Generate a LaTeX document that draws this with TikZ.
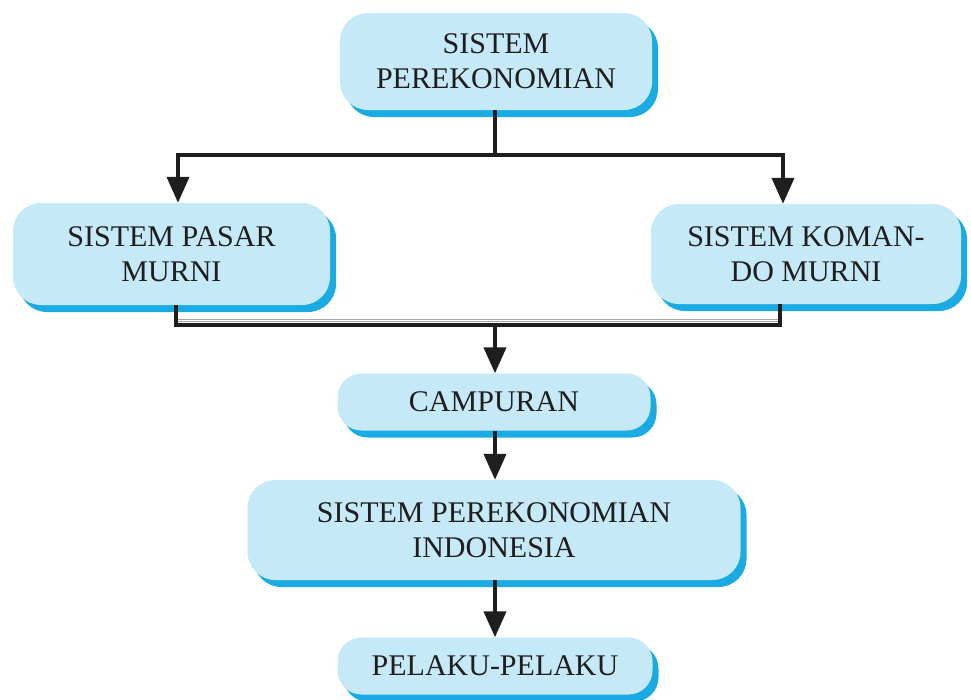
\documentclass[tikz,border=0pt]{standalone}
\usepackage{fontspec}
\setmainfont{Liberation Serif}
\usetikzlibrary{arrows.meta,shadows}
\definecolor{boxblue}{HTML}{C6E9F8}
\definecolor{shadowblue}{HTML}{1AABE3}
\definecolor{ink}{HTML}{1E1E1E}
\begin{document}
\begin{tikzpicture}[x=1pt,y=-1pt,
  box/.style={rounded corners=28pt, fill=boxblue, draw=none, align=center,
    text=ink, font=\fontsize{30}{35}\selectfont, inner sep=0pt,
    drop shadow={shadow xshift=6pt, shadow yshift=-7pt, fill=shadowblue, opacity=1}},
  smallbox/.style={box, rounded corners=24pt},
  conn/.style={line width=4pt, draw=ink},
  arr/.style={conn, -{Triangle[width=22pt,length=26pt]}}]
\useasboundingbox (0,0) rectangle (971,699);
\node[box, minimum width=312pt, minimum height=97pt] (top) at (496,61.5) {SISTEM\\PEREKONOMIAN};
\node[box, minimum width=317pt, minimum height=102pt] (left) at (171.5,254) {SISTEM PASAR\\MURNI};
\node[box, minimum width=310pt, minimum height=100pt] (right) at (806,254) {SISTEM KOMAN-\\DO MURNI};
\node[smallbox, minimum width=313pt, minimum height=57pt] (camp) at (494,402) {CAMPURAN};
\node[box, minimum width=493pt, minimum height=100pt] (indo) at (494,530) {SISTEM PEREKONOMIAN\\INDONESIA};
\node[smallbox, minimum width=315pt, minimum height=57pt] (pel) at (495,666) {PELAKU-PELAKU};
% top split
\coordinate (j1) at (495,155);
\coordinate (jl) at (178,155);
\coordinate (jr) at (783,155);
\draw[conn] (top.south -| j1) -- (j1);
\draw[conn, line cap=rect] (jl) -- (jr);
\draw[arr] (jl) -- (jl |- left.north);
\draw[arr] (jr) -- (jr |- right.north);
% bottom bracket
\coordinate (bl) at (176,325);
\coordinate (br) at (780,325);
\coordinate (bm) at (495,325);
\draw[conn, line width=3.5pt, line join=miter] (bl |- left.south) -- (bl) -- (br) -- (br |- right.south);
\draw[draw=gray!70, line width=3pt] ([xshift=2pt,yshift=5pt]bl) -- ([xshift=-2pt,yshift=5pt]br);
\draw[draw=white, line width=1.2pt] ([xshift=2pt,yshift=4.5pt]bl) -- ([xshift=-2pt,yshift=4.5pt]br);
\draw[arr] (bm) -- (bm |- camp.north);
\draw[arr] (camp.south -| bm) -- (indo.north -| bm);
\draw[arr] (indo.south -| bm) -- (pel.north -| bm);
\end{tikzpicture}
\end{document}
